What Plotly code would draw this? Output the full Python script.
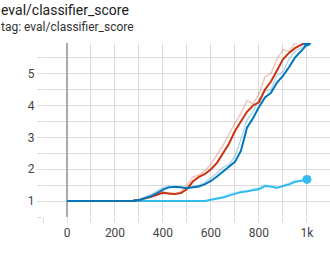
import plotly.graph_objects as go

steps = list(range(0, 1001, 25))

red_smooth = [1.0]*10 + [1.0, 1.01, 1.03, 1.07, 1.13, 1.2, 1.26, 1.24, 1.22, 1.25, 1.38, 1.62, 1.76, 1.85, 2.0, 2.2,
                         2.48, 2.8, 3.2, 3.5, 3.8, 4.0, 4.1, 4.5, 4.75, 5.1, 5.45, 5.65, 5.8, 5.9, 6.0, 6.1]
red_raw = [1.0]*10 + [1.0, 1.02, 1.05, 1.1, 1.18, 1.26, 1.3, 1.22, 1.2, 1.3, 1.5, 1.75, 1.82, 1.95, 2.15, 2.45,
                      2.75, 3.1, 3.45, 3.75, 4.15, 4.05, 4.35, 4.9, 5.0, 5.45, 5.75, 5.7, 5.95, 6.0, 6.1, 6.2]

blue_smooth = [1.0]*10 + [1.0, 1.01, 1.03, 1.08, 1.15, 1.25, 1.36, 1.43, 1.45, 1.43, 1.40, 1.43, 1.46, 1.53, 1.63,
                          1.77, 1.93, 2.08, 2.23, 2.58, 3.3, 3.6, 3.95, 4.25, 4.4, 4.72, 4.93, 5.2, 5.5, 5.7,
                          5.92, 6.0]
blue_raw = [1.0]*10 + [1.0, 1.02, 1.05, 1.12, 1.2, 1.32, 1.42, 1.47, 1.45, 1.41, 1.39, 1.46, 1.5, 1.6, 1.72,
                       1.88, 2.05, 2.15, 2.4, 2.95, 3.55, 3.8, 4.2, 4.45, 4.5, 4.95, 5.05, 5.45, 5.7, 5.8,
                       6.05, 6.1]

cyan_smooth = [1.0]*24 + [1.04, 1.07, 1.11, 1.17, 1.23, 1.28, 1.31, 1.34, 1.37, 1.47, 1.46, 1.42, 1.46,
                          1.52, 1.6, 1.63, 1.68]
cyan_raw = [1.0]*24 + [1.06, 1.1, 1.14, 1.22, 1.26, 1.32, 1.3, 1.38, 1.42, 1.52, 1.44, 1.4, 1.5,
                       1.56, 1.66, 1.62, 1.72]

x_tick_vals = [0, 200, 400, 600, 800, 1000]
x_tick_text = ["0", "200", "400", "600", "800", "1k"]
y_tick_vals = [1, 2, 3, 4, 5]

series = [
    ("cyan", "#33bbee", cyan_smooth, cyan_raw),
    ("red", "#cc3311", red_smooth, red_raw),
    ("blue", "#0077bb", blue_smooth, blue_raw),
]

fig = go.Figure()
for name, color, sm, raw in series:
    fig.add_trace(go.Scatter(x=steps, y=raw, mode="lines", line=dict(color=color, width=1.3),
                             opacity=0.3, showlegend=False, hoverinfo="skip"))
for name, color, sm, raw in series:
    fig.add_trace(go.Scatter(x=steps, y=sm, mode="lines", line=dict(color=color, width=2),
                             showlegend=False, name=name))
    fig.add_trace(go.Scatter(x=[steps[-1]], y=[sm[-1]], mode="markers",
                             marker=dict(color=color, size=9), showlegend=False))

PLOT_TOP, PLOT_H, PLOT_W, LEFT = 43, 174, 287, 43

fig.update_layout(
    width=330, height=274,
    margin=dict(l=LEFT, r=0, t=PLOT_TOP, b=274 - PLOT_TOP - PLOT_H),
    paper_bgcolor="white", plot_bgcolor="white",
    font=dict(family="Roboto", size=12, color="#444"),
    annotations=[
        dict(text="eval/classifier_score", xref="paper", yref="paper",
             x=-LEFT / PLOT_W, y=(PLOT_TOP + PLOT_H - 0.5) / PLOT_H, xanchor="left", yanchor="top",
             showarrow=False, borderpad=0, font=dict(family="Roboto", size=14, color="#212121")),
        dict(text="tag: eval/classifier_score", xref="paper", yref="paper",
             x=-LEFT / PLOT_W, y=(PLOT_TOP + PLOT_H - 19) / PLOT_H, xanchor="left", yanchor="top",
             showarrow=False, borderpad=0, font=dict(family="Roboto", size=12, color="#333333")),
    ],
)
fig.update_xaxes(range=[-100, 1096], tickvals=x_tick_vals, ticktext=x_tick_text,
                 showgrid=True, gridcolor="#dcdcdc", gridwidth=1,
                 ticks="outside", ticklen=5, tickcolor="#dcdcdc",
                 minor=dict(dtick=100, tick0=0, showgrid=True, gridcolor="#dcdcdc", ticks="outside",
                            ticklen=5, tickcolor="#dcdcdc"),
                 zeroline=True, zerolinecolor="#aaaaaa", zerolinewidth=1.5,
                 showline=False, fixedrange=True)
fig.update_yaxes(range=[0.5, 5.96], tickvals=y_tick_vals,
                 showgrid=True, gridcolor="#dcdcdc", gridwidth=1,
                 ticks="outside", ticklen=5, tickcolor="#dcdcdc",
                 minor=dict(dtick=0.5, tick0=0, showgrid=True, gridcolor="#dcdcdc", ticks="outside",
                            ticklen=5, tickcolor="#dcdcdc"),
                 zeroline=False, showline=False, fixedrange=True)

fig.write_html("out.html", config={"displayModeBar": False},
               post_script="document.body.style.margin='0';")
